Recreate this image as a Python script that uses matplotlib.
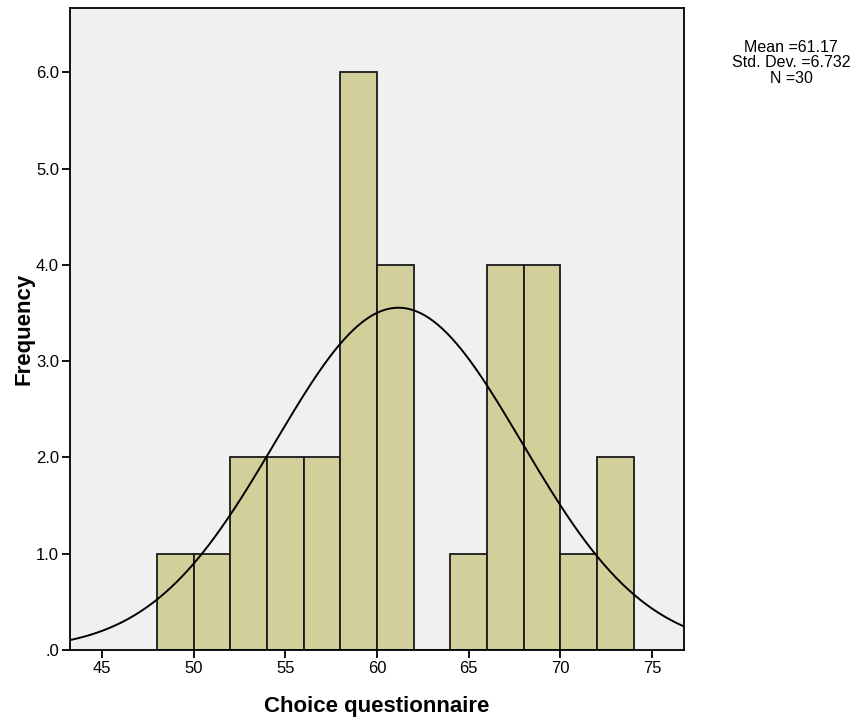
import numpy as np
import matplotlib
matplotlib.use('Agg')
import matplotlib.pyplot as plt

plt.rcParams['font.family'] = ['Liberation Sans', 'DejaVu Sans']

bin_edges = [48, 50, 52, 54, 56, 58, 60, 62, 64, 66, 68, 70, 72, 74]
counts = [1, 1, 2, 2, 2, 6, 4, 0, 1, 4, 4, 1, 2]
mean = 61.17
std_dev = 6.732
n = 30
x_ticks = [45, 50, 55, 60, 65, 70, 75]
y_ticks = [0, 1, 2, 3, 4, 5, 6]
y_labels = ['.0', '1.0', '2.0', '3.0', '4.0', '5.0', '6.0']

fig = plt.figure(figsize=(8.58, 7.23), dpi=100)
ax = fig.add_axes([0.0816, 0.101, 0.7156, 0.888])
ax.set_facecolor('#f0f0f0')

lefts = bin_edges[:-1]
widths = np.diff(bin_edges)
ax.bar(lefts, counts, width=widths, align='edge', color='#d3cf9a',
       edgecolor='#1a1a1a', linewidth=1.3, zorder=2)

# normal curve scaled to counts
xs = np.linspace(43.25, 76.75, 400)
bw = bin_edges[1] - bin_edges[0]
ys = n * bw * np.exp(-0.5 * ((xs - mean) / std_dev) ** 2) / (std_dev * np.sqrt(2 * np.pi))
ax.plot(xs, ys, color='black', linewidth=1.4, zorder=3)

ax.set_xlim(43.25, 76.75)
ax.set_ylim(0, 6.67)
ax.set_xticks(x_ticks)
ax.set_xticklabels([str(t) for t in x_ticks], fontsize=12)
ax.set_yticks(y_ticks)
ax.set_yticklabels(y_labels, fontsize=12)
ax.tick_params(direction='out', length=6, width=1.3, color='black', pad=2)
for s in ax.spines.values():
    s.set_linewidth(1.3)

ax.set_xlabel('Choice questionnaire', fontsize=16, fontweight='bold', labelpad=14)
ax.set_ylabel('Frequency', fontsize=16, fontweight='bold', labelpad=1)

fig.text(0.922, 0.913, 'Mean =%.2f\nStd. Dev. =%.3f\nN =%d' % (mean, std_dev, n),
         ha='center', va='center', fontsize=11.5, linespacing=1.05)

fig.savefig('out.png', dpi=100)
